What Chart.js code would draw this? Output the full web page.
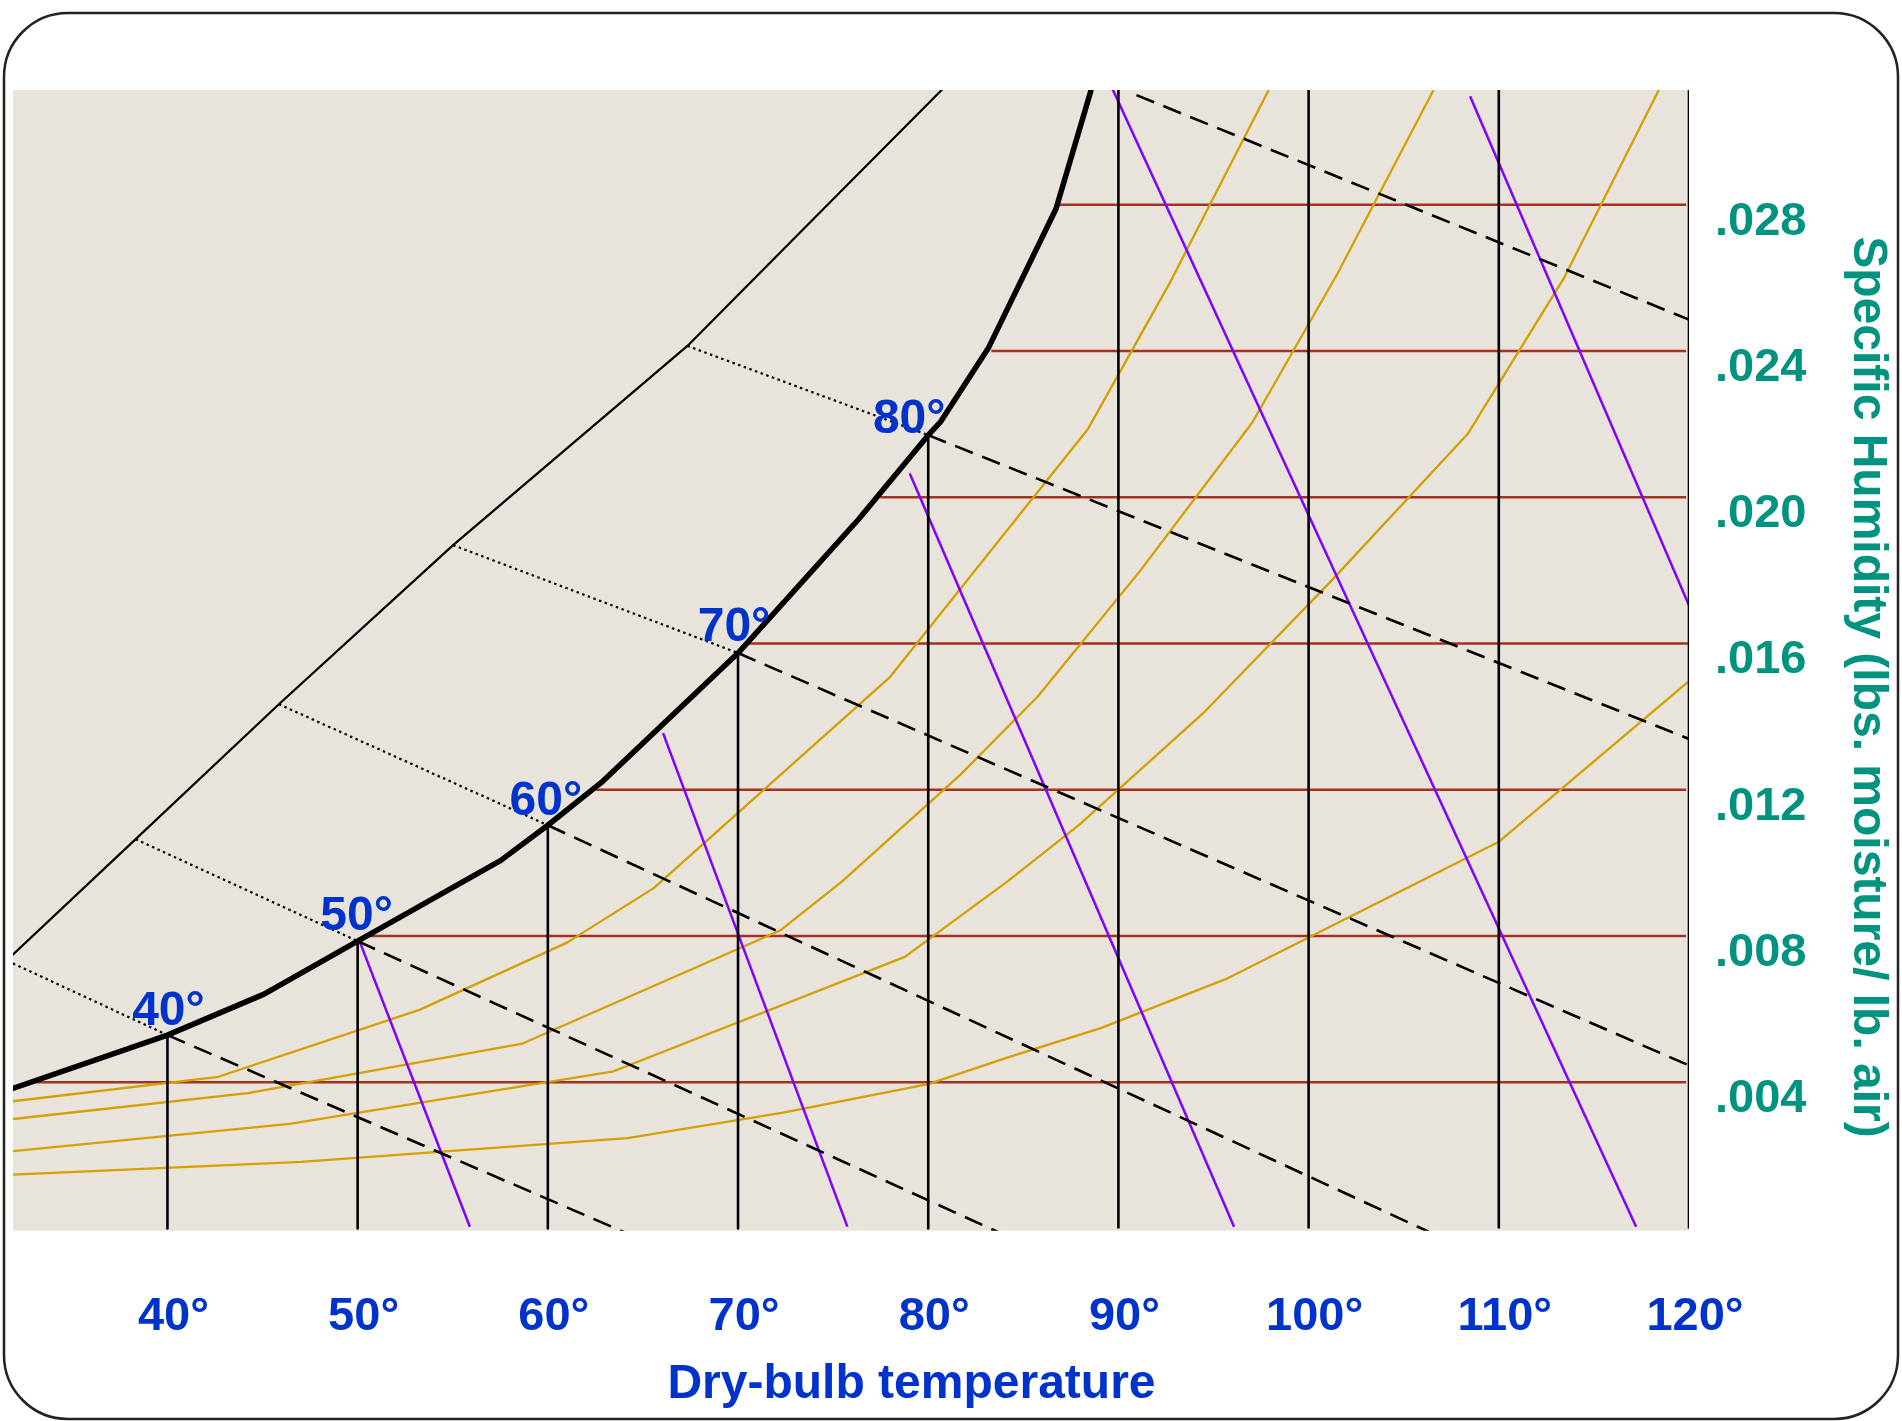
<!DOCTYPE html>
<html>
<head>
<meta charset="utf-8">
<script src="https://cdn.jsdelivr.net/npm/chart.js@4.4.1/dist/chart.umd.min.js"></script>
<style>html,body{margin:0;padding:0;background:#fff}canvas{display:block}</style>
</head>
<body>
<canvas id="c" width="1902" height="1421"></canvas>
<script>
// ---------- data (dry-bulb °F, specific humidity lb/lb) ----------
const tempTicks = [40, 50, 60, 70, 80, 90, 100, 110, 120];
const humidityTicks = [0.004, 0.008, 0.012, 0.016, 0.020, 0.024, 0.028];

const saturationCurve = [[30.74,0.00363],[40,0.00529],[45.08,0.00641],[50,0.00786],[57.53,0.01007],[60,0.01103],[62.82,0.0122],[70,0.01574],[76.34,0.0194],[80,0.0217],[80.66,0.02207],[83.18,0.0241],[86.72,0.02789],[88.57,0.03115]];

const wetBulbTemps = [40, 50, 60, 70, 80];
const wetBulbSatHumidity = [0.00529, 0.00786, 0.01103, 0.01574, 0.0217];
const wetBulbEnds = [[64.47,-0.0002],[83.69,-0.0001],[106.36,-0.0001],[120,0.00446],[120,0.01339]];
const wetBulb90 = [[90.95,0.0310],[120,0.02486]];
const wetBulbDottedStarts = [[31.59,0.00732],[38.33,0.01065],[45.86,0.01434],[55.02,0.01869],[67.34,0.02414]];

const outerCurve = [[30.93,0.00703],[38.33,0.01065],[45.86,0.01434],[55.02,0.01869],[67.34,0.02414],[73.94,0.0276],[80.82,0.0312]];

const fullHeightTemps = [90, 100, 110, 120];
const chartTopHumidity = 0.0312;

const humidityLineStarts = [33.07, 50.36, 62.54, 70.55, 77.48, 83.32, 86.88];
const humidityLineEnd = 119.85;

const volumeLines = [
  [[50.1,0.00786],[55.9,0.00005]],
  [[66.06,0.01355],[75.75,0.00005]],
  [[79.03,0.02065],[96.08,0.00005]],
  [[89.66,0.0312],[117.22,0.00005]],
  [[108.49,0.03097],[120.2,0.0168]]
];

const rh1 = [[30.74,0.00341],[42.68,0.00415],[53.25,0.00598],[61.01,0.00782],[65.57,0.00931],[78.0,0.01509],[88.4,0.02187],[92.76,0.02592],[97.9,0.03114]];
const rh2 = [[30.74,0.00293],[44.23,0.0037],[58.67,0.00506],[72.21,0.00815],[75.49,0.0095],[81.67,0.0124],[85.76,0.01455],[91.13,0.01798],[97.03,0.02204],[101.5,0.0261],[106.57,0.03114]];
const rh3 = [[30.74,0.00206],[46.43,0.00286],[63.46,0.0043],[78.77,0.00743],[84.19,0.0095],[87.98,0.01106],[94.43,0.01408],[101.13,0.01768],[108.36,0.02173],[113.44,0.02601],[118.5,0.03123]];
const rh4 = [[30.74,0.00145],[47.03,0.00182],[64.19,0.00247],[72.38,0.00317],[80,0.00395],[84.19,0.00468],[89.07,0.00548],[95.64,0.00682],[109.98,0.01057],[119.95,0.01495]];

// ---------- styles ----------
const FONT = '"Liberation Sans", Arial, Helvetica, sans-serif';
const BLUE = '#0033CC', TEAL = '#00937F', BEIGE = 'rgb(232,228,220)';
const RED = '#A33222', GOLD = '#D49F00', PURPLE = '#8000FF';

const pts = a => a.map(([x, y]) => ({x, y}));
function line(data, color, width, order, dash) {
  return { data: pts(data), borderColor: color, borderWidth: width, borderDash: dash || [],
           showLine: true, pointRadius: 0, pointHoverRadius: 0, fill: false, tension: 0, order,
           borderCapStyle: 'butt', borderJoinStyle: 'round' };
}

const datasets = [];
humidityTicks.forEach((h, i) => datasets.push(line([[humidityLineStarts[i], h], [i === 3 ? 120 : humidityLineEnd, h]], RED, 2.6, 6)));
[rh1, rh2, rh3, rh4].forEach(r => datasets.push(line(r, GOLD, 2.3, 5)));
volumeLines.forEach(v => datasets.push(line(v, PURPLE, 2.5, 4)));
wetBulbTemps.forEach((t, i) => datasets.push(line([[t, wetBulbSatHumidity[i]], [t, 0]], '#000', 2.6, 3)));
fullHeightTemps.forEach(t => datasets.push(line([[t, 0], [t, chartTopHumidity]], '#000', 2.6, 3)));
wetBulbTemps.forEach((t, i) => datasets.push(line([[t, wetBulbSatHumidity[i]], wetBulbEnds[i]], '#000', 2.6, 2, [19, 10])));
datasets.push(line(wetBulb90, '#000', 2.6, 2, [19, 10]));
wetBulbTemps.forEach((t, i) => datasets.push(line([wetBulbDottedStarts[i], [t, wetBulbSatHumidity[i]]], '#000', 2.2, 2, [2.5, 3.5])));
datasets.push(line(outerCurve, '#000', 2.2, 2));
datasets.push(line(saturationCurve, '#000', 5.5, 1));

const satLabelOffsets = [[1,-27],[-1,-28],[-2,-27],[-4,-29],[-19,-19]];

const deco = {
  id: 'deco',
  beforeDraw(chart) {
    const {ctx, chartArea: a} = chart;
    ctx.save();
    ctx.fillStyle = '#fff';
    ctx.fillRect(0, 0, chart.width, chart.height);
    ctx.fillStyle = BEIGE;
    ctx.fillRect(a.left, a.top, a.right - a.left, a.bottom - a.top);
    ctx.restore();
  },
  afterDraw(chart) {
    const {ctx} = chart;
    const xs = chart.scales.x, ys = chart.scales.y;
    ctx.save();
    // labels on saturation curve
    ctx.fillStyle = BLUE;
    ctx.font = 'bold 48px ' + FONT;
    ctx.textAlign = 'center';
    ctx.textBaseline = 'alphabetic';
    wetBulbTemps.forEach((t, i) => {
      const px = xs.getPixelForValue(t) + satLabelOffsets[i][0];
      const py = ys.getPixelForValue(wetBulbSatHumidity[i]) + satLabelOffsets[i][1];
      ctx.fillText(t + '°', px, py + 17);
    });
    // x title
    ctx.font = 'bold 48px ' + FONT;
    ctx.fillText('Dry-bulb temperature', 911.5, 1397.5);
    // y title
    ctx.fillStyle = TEAL;
    ctx.font = 'bold 48px ' + FONT;
    ctx.translate(1853.5, 687);
    ctx.rotate(Math.PI / 2);
    ctx.fillText('Specific Humidity (lbs. moisture/ lb. air)', 0, 0);
    ctx.restore();
    // frame
    ctx.save();
    ctx.strokeStyle = '#222';
    ctx.lineWidth = 2.5;
    ctx.beginPath();
    ctx.roundRect(4, 13, 1894, 1406, 64);
    ctx.stroke();
    ctx.restore();
  }
};

new Chart(document.getElementById('c'), {
  type: 'scatter',
  data: { datasets },
  plugins: [deco],
  options: {
    responsive: false,
    animation: false,
    events: [],
    layout: { padding: { top: 90, left: 13, right: 0, bottom: 0 } },
    plugins: { legend: { display: false }, tooltip: { enabled: false }, title: { display: false } },
    scales: {
      x: {
        type: 'linear', min: 31.88, max: 120,
        grid: { display: false }, border: { display: false },
        afterBuildTicks: s => { s.ticks = tempTicks.map(v => ({value: v})); },
        afterFit: s => { s.height = 190.3; },
        ticks: { autoSkip: false, maxRotation: 0, padding: 50, labelOffset: 6,
                 color: BLUE, font: { family: FONT, size: 47, weight: 'bold' },
                 callback: v => v + '°' }
      },
      y: {
        type: 'linear', position: 'right', min: -0.00006, max: 0.03114,
        grid: { display: false }, border: { display: false },
        afterBuildTicks: s => { s.ticks = humidityTicks.map(v => ({value: v})); },
        afterFit: s => { s.width = 213; },
        ticks: { autoSkip: false, padding: 18, labelOffset: 17,
                 color: TEAL, font: { family: FONT, size: 47, weight: 'bold' },
                 callback: v => '.' + String(Math.round(v * 1000)).padStart(3, '0') }
      }
    }
  }
});
</script>
</body>
</html>
